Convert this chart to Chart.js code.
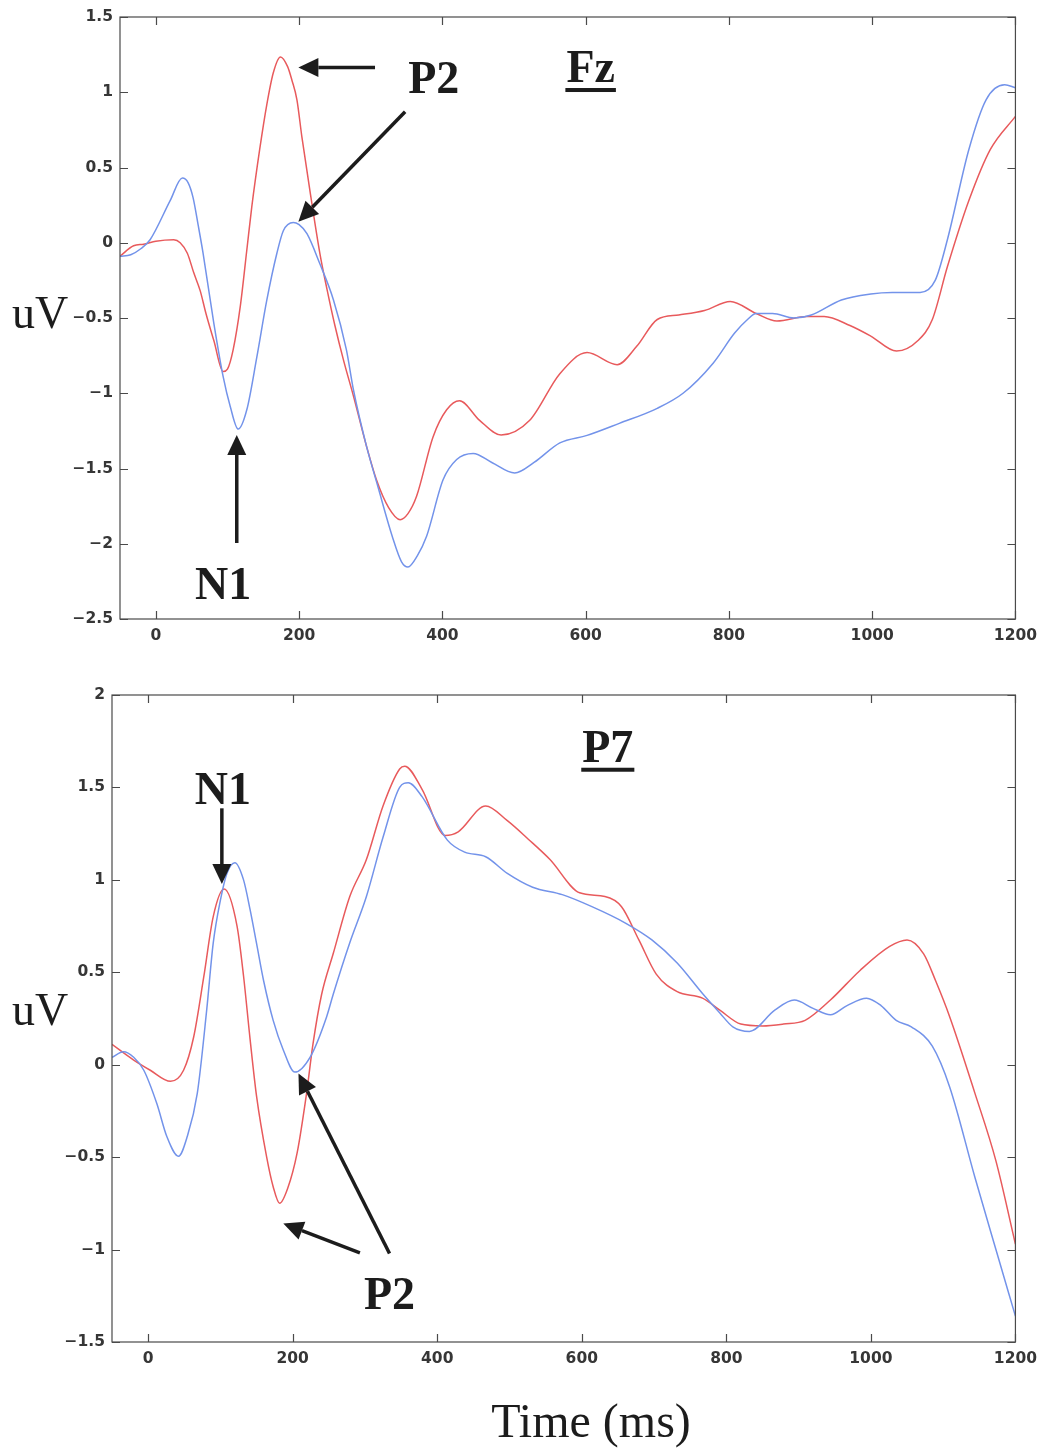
<!DOCTYPE html>
<html>
<head>
<meta charset="utf-8">
<script src="https://cdn.jsdelivr.net/npm/chart.js@4/dist/chart.umd.min.js"></script>
<style>
  html, body { margin: 0; padding: 0; background: #fff; }
  #wrap { position: relative; width: 1045px; height: 1449px; }
  canvas { position: absolute; left: 0; }
  #chartFz { top: 0; }
  #chartP7 { top: 660px; }
</style>
</head>
<body>
<div id="wrap">
  <canvas id="chartFz" width="1045" height="660"></canvas>
  <canvas id="chartP7" width="1045" height="789"></canvas>
</div>
<script>
  // Fz electrode, red trace (time in ms, amplitude in uV)
  var fzRedTime = [-50, -31, -17, 0, 25, 34, 44, 53, 62, 70, 81, 94, 100, 108, 118, 127, 134, 145, 155, 164, 174, 184, 190, 197, 204, 215, 229, 239, 250, 262, 276, 294, 308, 325, 341, 352, 364, 387, 406, 424, 452, 482, 522, 564, 602, 644, 671, 700, 730, 766, 802, 838, 867, 909, 933, 969, 998, 1034, 1064, 1084, 1105, 1135, 1165, 1200];
  var fzRedUv = [-0.09, -0.02, -0.01, 0.01, 0.02, 0.0, -0.07, -0.20, -0.32, -0.47, -0.65, -0.856, -0.84, -0.71, -0.42, -0.05, 0.24, 0.62, 0.92, 1.13, 1.235, 1.17, 1.08, 0.95, 0.70, 0.35, -0.07, -0.31, -0.55, -0.78, -1.02, -1.35, -1.575, -1.76, -1.84, -1.80, -1.685, -1.29, -1.11, -1.05, -1.18, -1.278, -1.18, -0.87, -0.73, -0.81, -0.69, -0.51, -0.48, -0.45, -0.39, -0.47, -0.52, -0.49, -0.49, -0.55, -0.62, -0.72, -0.65, -0.51, -0.16, 0.28, 0.62, 0.84];

  // Fz electrode, blue trace
  var fzBlueTime = [-50, -35, -21, -8, 20, 37, 45, 52, 59, 66, 81, 94, 104, 115, 127, 141, 155, 169, 178, 192, 200, 211, 229, 248, 266, 276, 294, 310, 330, 343, 352, 365, 378, 401, 420, 443, 469, 501, 528, 564, 602, 647, 700, 736, 778, 808, 826, 838, 861, 891, 915, 957, 998, 1028, 1067, 1088, 1105, 1135, 1159, 1185, 1200];
  var fzBlueUv = [-0.09, -0.08, -0.04, 0.02, 0.28, 0.43, 0.40, 0.30, 0.12, -0.07, -0.535, -0.89, -1.09, -1.238, -1.11, -0.76, -0.38, -0.07, 0.08, 0.135, 0.12, 0.06, -0.14, -0.38, -0.71, -0.98, -1.35, -1.62, -1.95, -2.12, -2.154, -2.08, -1.95, -1.575, -1.44, -1.40, -1.46, -1.53, -1.46, -1.33, -1.28, -1.20, -1.10, -1.0, -0.80, -0.60, -0.51, -0.47, -0.47, -0.50, -0.48, -0.38, -0.34, -0.33, -0.33, -0.25, 0.02, 0.62, 0.95, 1.05, 1.03];

  // P7 electrode, red trace
  var p7RedTime = [-50, -20, 3, 31, 49, 63, 77, 90, 105, 123, 132, 141, 150, 164, 173, 182, 193, 206, 219, 228, 240, 256, 279, 302, 325, 348, 355, 379, 411, 429, 467, 497, 526, 556, 597, 632, 655, 679, 703, 732, 767, 791, 820, 850, 879, 909, 944, 985, 1026, 1050, 1073, 1090, 1109, 1144, 1173, 1200];
  var p7RedUv = [0.11, 0.025, -0.03, -0.09, -0.03, 0.15, 0.476, 0.80, 0.95, 0.75, 0.48, 0.14, -0.17, -0.50, -0.66, -0.75, -0.67, -0.48, -0.16, 0.11, 0.38, 0.60, 0.91, 1.11, 1.40, 1.60, 1.615, 1.49, 1.24, 1.26, 1.40, 1.32, 1.22, 1.11, 0.93, 0.91, 0.855, 0.675, 0.49, 0.395, 0.36, 0.295, 0.22, 0.21, 0.22, 0.24, 0.35, 0.51, 0.64, 0.675, 0.60, 0.45, 0.26, -0.155, -0.52, -0.97];

  // P7 electrode, blue trace
  var p7BlueTime = [-50, -34, -20, -6, 12, 26, 42, 54, 68, 81, 90, 100, 109, 120, 132, 141, 150, 160, 173, 187, 203, 224, 247, 256, 279, 302, 325, 348, 360, 379, 414, 438, 467, 497, 532, 573, 614, 661, 697, 732, 767, 791, 809, 832, 867, 894, 920, 944, 967, 994, 1014, 1035, 1056, 1085, 1109, 1144, 1173, 1200];
  var p7BlueUv = [0.04, 0.07, 0.04, -0.03, -0.21, -0.39, -0.495, -0.39, -0.155, 0.295, 0.656, 0.89, 1.035, 1.093, 1.0, 0.84, 0.656, 0.45, 0.24, 0.08, -0.04, 0.04, 0.26, 0.38, 0.66, 0.91, 1.23, 1.50, 1.525, 1.45, 1.215, 1.15, 1.125, 1.035, 0.96, 0.92, 0.855, 0.765, 0.675, 0.55, 0.385, 0.28, 0.205, 0.18, 0.295, 0.35, 0.305, 0.27, 0.32, 0.36, 0.32, 0.24, 0.205, 0.10, -0.12, -0.61, -1.0, -1.36];

  var redColor = '#e85a5c';
  var blueColor = '#7393ea';
  var inkColor = '#1c1c1c';

  function toPoints(times, values) {
    return times.map(function (t, i) { return { x: t, y: values[i] }; });
  }

  function minusSign(v) {
    return String(v).replace('-', '\u2212');
  }

  function drawArrow(ctx, x0, y0, x1, y1) {
    var ang = Math.atan2(y1 - y0, x1 - x0);
    var headLen = 20, headHalf = 9.5;
    var bx = x1 - headLen * Math.cos(ang), by = y1 - headLen * Math.sin(ang);
    ctx.beginPath();
    ctx.moveTo(x0, y0);
    ctx.lineTo(bx, by);
    ctx.stroke();
    ctx.beginPath();
    ctx.moveTo(x1, y1);
    ctx.lineTo(bx + headHalf * Math.sin(ang), by - headHalf * Math.cos(ang));
    ctx.lineTo(bx - headHalf * Math.sin(ang), by + headHalf * Math.cos(ang));
    ctx.closePath();
    ctx.fill();
  }

  // box with inward ticks on all four sides
  var frameTicks = {
    id: 'frameTicks',
    afterDraw: function (chart) {
      var ctx = chart.ctx, a = chart.chartArea;
      var xs = chart.scales.x, ys = chart.scales.y;
      var len = 8;
      ctx.save();
      ctx.strokeStyle = '#4a4a4a';
      ctx.lineWidth = 1.2;
      ctx.strokeRect(a.left, a.top, a.right - a.left, a.bottom - a.top);
      ctx.beginPath();
      xs.ticks.forEach(function (t) {
        var px = Math.round(xs.getPixelForValue(t.value)) + 0.5;
        ctx.moveTo(px, a.bottom); ctx.lineTo(px, a.bottom - len);
        ctx.moveTo(px, a.top); ctx.lineTo(px, a.top + len);
      });
      ys.ticks.forEach(function (t) {
        var py = Math.round(ys.getPixelForValue(t.value)) + 0.5;
        ctx.moveTo(a.left, py); ctx.lineTo(a.left + len, py);
        ctx.moveTo(a.right, py); ctx.lineTo(a.right - len, py);
      });
      ctx.stroke();
      ctx.restore();
    }
  };

  // component labels, arrows and axis captions
  var notes = {
    id: 'notes',
    afterDraw: function (chart, args, opts) {
      var ctx = chart.ctx, xs = chart.scales.x, ys = chart.scales.y;
      ctx.save();
      ctx.strokeStyle = inkColor;
      ctx.fillStyle = inkColor;
      ctx.lineWidth = 3.5;
      (opts.arrows || []).forEach(function (r) {
        drawArrow(ctx,
          xs.getPixelForValue(r.from[0]), ys.getPixelForValue(r.from[1]),
          xs.getPixelForValue(r.to[0]), ys.getPixelForValue(r.to[1]));
      });
      ctx.textAlign = 'center';
      ctx.textBaseline = 'alphabetic';
      ctx.font = 'bold 46px "Liberation Serif", "DejaVu Serif", serif';
      (opts.labels || []).forEach(function (l) {
        var px = xs.getPixelForValue(l.at[0]), py = ys.getPixelForValue(l.at[1]);
        ctx.fillText(l.text, px, py);
        if (l.underline) {
          var w = ctx.measureText(l.text).width + 2;
          ctx.fillRect(px - w / 2, py + 6, w, 4);
        }
      });
      (opts.captions || []).forEach(function (c) {
        ctx.font = c.size + 'px "Liberation Serif", "DejaVu Serif", serif';
        ctx.textAlign = c.align;
        ctx.fillText(c.text, c.x, c.y);
      });
      ctx.restore();
    }
  };

  function makeChart(id, red, blue, yMin, yMax, yWidth, padTop, xHeight, padBottom, noteOpts) {
    return new Chart(document.getElementById(id), {
      type: 'line',
      data: {
        datasets: [
          { data: blue, borderColor: blueColor, borderWidth: 1.5, pointRadius: 0, fill: false, cubicInterpolationMode: 'monotone' },
          { data: red, borderColor: redColor, borderWidth: 1.5, pointRadius: 0, fill: false, cubicInterpolationMode: 'monotone' }
        ]
      },
      options: {
        responsive: false,
        animation: false,
        layout: { padding: { top: padTop, right: 28, bottom: padBottom, left: 0 } },
        plugins: { legend: { display: false }, tooltip: { enabled: false }, notes: noteOpts },
        scales: {
          x: {
            type: 'linear',
            min: -50,
            max: 1200,
            grid: { display: false, drawTicks: false },
            border: { display: false },
            afterFit: function (s) { s.height = xHeight; },
            ticks: {
              stepSize: 200,
              includeBounds: false,
              padding: 8,
              maxRotation: 0,
              color: '#363636',
              font: { family: 'DejaVu Sans', size: 15.5, weight: 'bold' },
              callback: minusSign
            }
          },
          y: {
            min: yMin,
            max: yMax,
            grid: { display: false, drawTicks: false },
            border: { display: false },
            afterFit: function (s) { s.width = yWidth; },
            ticks: {
              stepSize: 0.5,
              padding: 7,
              color: '#363636',
              font: { family: 'DejaVu Sans', size: 15.5, weight: 'bold' },
              callback: minusSign
            }
          }
        }
      },
      plugins: [frameTicks, notes]
    });
  }

  makeChart('chartFz', toPoints(fzRedTime, fzRedUv), toPoints(fzBlueTime, fzBlueUv),
    -2.5, 1.5, 120, 17, 41, 0, {
      arrows: [
        { from: [306, 1.165], to: [199, 1.165] },
        { from: [348, 0.87], to: [199, 0.14] },
        { from: [113, -1.995], to: [113, -1.277] }
      ],
      labels: [
        { text: 'P2', at: [388, 0.995] },
        { text: 'Fz', at: [607, 1.068], underline: true },
        { text: 'N1', at: [94, -2.37] }
      ],
      captions: [
        { text: 'uV', x: 12, y: 328, align: 'left', size: 46 }
      ]
    });

  makeChart('chartP7', toPoints(p7RedTime, p7RedUv), toPoints(p7BlueTime, p7BlueUv),
    -1.5, 2, 112, 35, 40, 67, {
      arrows: [
        { from: [102, 1.387], to: [102, 0.977] },
        { from: [293, -1.018], to: [187, -0.859] },
        { from: [334, -1.021], to: [208, -0.047] }
      ],
      labels: [
        { text: 'P7', at: [636, 1.639], underline: true },
        { text: 'N1', at: [103.5, 1.41] },
        { text: 'P2', at: [334, -1.319] }
      ],
      captions: [
        { text: 'uV', x: 12, y: 365, align: 'left', size: 46 },
        { text: 'Time (ms)', x: 591, y: 777, align: 'center', size: 48 }
      ]
    });
</script>
</body>
</html>
